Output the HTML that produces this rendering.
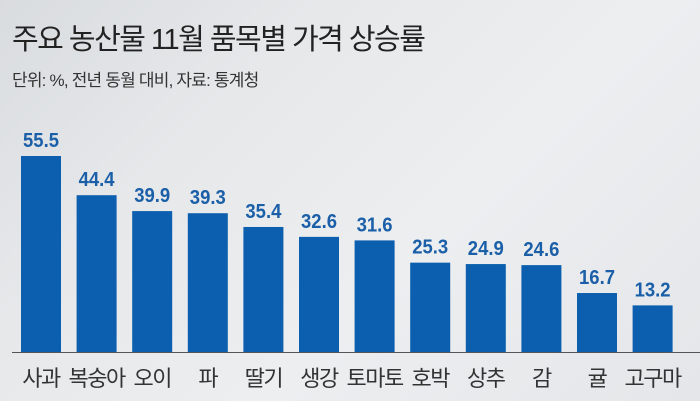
<!DOCTYPE html>
<html><head><meta charset="utf-8"><style>
html,body{margin:0;padding:0}
body{width:700px;height:401px;overflow:hidden;background:linear-gradient(135deg,#d9dcdf 0%,#e6e8ea 30%,#eceef0 60%,#e4e6e9 100%);font-family:"Liberation Sans","Noto Sans CJK KR",sans-serif;position:relative}
.t{position:absolute;left:12px;top:16px;font-size:29px;color:#222;letter-spacing:-1.5px}
.s{position:absolute;left:12px;top:66px;font-size:17px;color:#333;letter-spacing:-0.8px}
</style></head><body>
<div class="t">주요 농산물 11월 품목별 가격 상승률</div>
<div class="s">단위: %, 전년 동월 대비, 자료: 통계청</div>
<svg id="c" width="700" height="401" style="position:absolute;left:0;top:0"></svg>
<script>
const categories=["사과","복숭아","오이","파","딸기","생강","토마토","호박","상추","감","귤","고구마"];
const values=[55.5,44.4,39.9,39.3,35.4,32.6,31.6,25.3,24.9,24.6,16.7,13.2];
const labels=["55.5","44.4","39.9","39.3","35.4","32.6","31.6","25.3","24.9","24.6","16.7","13.2"];
const NS="http://www.w3.org/2000/svg";
const svg=document.getElementById('c');
const base=352,scaleY=196/55.5;
const x=i=>41+i*55.6;
const y=v=>base-v*scaleY;
function mk(t,a){const e=document.createElementNS(NS,t);for(const k in a)e.setAttribute(k,a[k]);svg.appendChild(e);return e;}
categories.forEach((c,i)=>{
 const b=mk('rect',{x:x(i)-20,y:y(values[i]),width:40,height:base-y(values[i]),fill:'#0b5fae'});
 
 
 const v=mk('text',{x:x(i),y:y(values[i])-9,'text-anchor':'middle','font-size':20,'font-weight':'bold',fill:'#1a5fa8','font-family':'Liberation Sans,sans-serif',textLength:36,lengthAdjust:'spacingAndGlyphs'});
 v.textContent=labels[i];
 
 
 const l=mk('text',{x:x(i),y:386,'text-anchor':'middle','font-size':22,fill:'#333','font-family':'Liberation Sans,Noto Sans CJK KR,sans-serif','letter-spacing':'-1.5'});
 l.textContent=c;
 
 
});
const ax=mk('line',{x1:12,x2:700,y1:base+0.5,y2:base+0.5,stroke:'#555','stroke-width':1});


</script>
</body></html>
